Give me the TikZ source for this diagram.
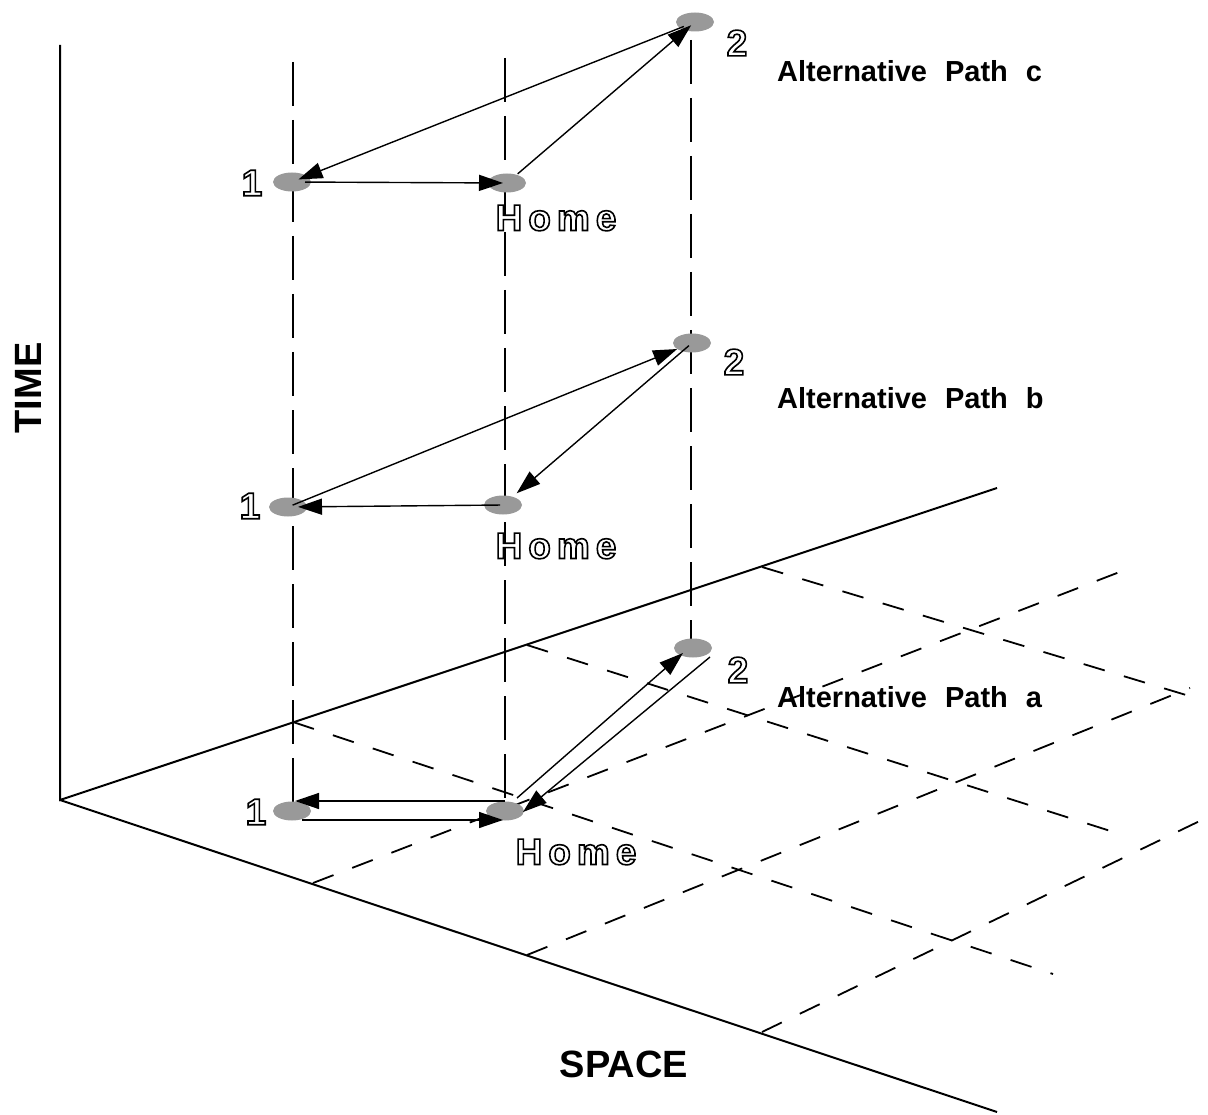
\documentclass[tikz,border=0pt]{standalone}
\usepackage{fontspec}
\setmainfont{Liberation Sans}
\usetikzlibrary{shapes.geometric,arrows.meta}
\newcommand\hollowtxt[1]{%
  {\color{white}\special{pdf:literal direct 2 Tr 1.6 w 0 G}#1\special{pdf:literal direct 0 Tr}}}
\begin{document}
\begin{tikzpicture}[x=1pt,y=-1pt,
  axis/.style={line width=2pt},
  floorgrid/.style={line width=1.8pt, dash pattern=on 22pt off 20pt},
  column/.style={line width=1.8pt, dash pattern=on 44pt off 14pt},
  spot/.style={ellipse, fill=black!40, minimum width=38pt, minimum height=19pt, inner sep=0pt},
  trip/.style={line width=1.4pt, -{Triangle[length=24pt,width=16pt]}},
  pathlabel/.style={font=\bfseries\fontsize{29}{34}\selectfont, anchor=base west, inner sep=0pt},
  axislabel/.style={font=\bfseries\fontsize{38}{44}\selectfont, inner sep=0pt},
  placelabel/.style={font=\bfseries\fontsize{37}{42}\selectfont, inner sep=0pt}]
\useasboundingbox (0,0) rectangle (1208,1115);
% axes
\coordinate (O) at (60,800);
\coordinate (Ttop) at (60,45);
\coordinate (Bend) at (997,488);
\coordinate (Fend) at (997,1112);
\draw[axis] (Ttop) -- (O) -- (Bend);
\draw[axis] (O) -- (Fend);
% floor grid
\draw[floorgrid] (313,883) -- (1130,568);
\draw[floorgrid] (527,955) -- (1190,688);
\draw[floorgrid] (762,1032) -- (1208,817);
\draw[floorgrid] (293,722) -- (1053,974);
\draw[floorgrid] (527,645) -- (1123,835);
\draw[floorgrid] (762,567) -- (1196,698);
% columns
\draw[column] (293,62) -- (293,802);
\draw[column] (505,58) -- (505,801);
\draw[column] (691,40) -- (691,646);
% spots
\node[spot] (c1) at (292,182) {};
\node[spot] (ch) at (507,183) {};
\node[spot] (c2) at (695,22) {};
\node[spot] (b1) at (288,507) {};
\node[spot] (bh) at (503,505) {};
\node[spot] (b2) at (692,343) {};
\node[spot] (a1) at (292,811) {};
\node[spot] (ah) at (505,811) {};
\node[spot] (a2) at (693,648) {};
% path c
\draw[trip, shorten <=13pt, shorten >=4pt] (c1.center) -- (ch.center);
\draw[trip, shorten <=14pt, shorten >=5pt] (ch.center) -- (c2.center);
\draw[trip, shorten <=12pt, shorten >=7pt] (c2.center) -- (c1.center);
% path b
\draw[trip, shorten <=5pt, shorten >=16pt] (b1.center) -- (b2.center);
\draw[trip, shorten <=4pt, shorten >=18pt] (b2.center) -- (bh.center);
\draw[trip, shorten <=3pt, shorten >=10pt] (bh.center) -- (b1.center);
% path a
\draw[trip, shorten >=3pt] ([yshift=10pt]ah.center) -- ([yshift=10pt]a1.center);
\draw[trip, shorten <=10pt, shorten >=2pt] ([yshift=-9pt]a1.center) -- ([yshift=-9pt]ah.center);
\draw[trip] ([xshift=12pt,yshift=13pt]ah.center) -- ([xshift=-10pt,yshift=-5pt]a2.center);
\draw[trip] ([xshift=17pt,yshift=-9pt]a2.center) -- ([xshift=18pt,yshift=-1pt]ah.center);
% place labels
\node[placelabel] (l1c) at (252,183) {\hollowtxt{1}};
\node[placelabel] (l1b) at (250,506) {\hollowtxt{1}};
\node[placelabel] (l1a) at (256,812) {\hollowtxt{1}};
\node[placelabel] (l2c) at (737,43) {\hollowtxt{2}};
\node[placelabel] (l2b) at (734,362) {\hollowtxt{2}};
\node[placelabel] (l2a) at (738,670) {\hollowtxt{2}};
\node[placelabel] (lhc) at (556,218) {\hollowtxt{H\kern6pt o\kern6pt m\kern6pt e}};
\node[placelabel] (lhb) at (556,546) {\hollowtxt{H\kern6pt o\kern6pt m\kern6pt e}};
\node[placelabel] (lha) at (576,852) {\hollowtxt{H\kern6pt o\kern6pt m\kern6pt e}};
% path labels
\node[pathlabel] (pc) at (777,82) {Alternative\hspace{18pt}Path\hspace{18pt}c};
\node[pathlabel] (pb) at (777,408) {Alternative\hspace{18pt}Path\hspace{18pt}b};
\node[pathlabel] (pa) at (777,707) {Alternative\hspace{18pt}Path\hspace{18pt}a};
% axis labels
\node[axislabel, rotate=90] (time) at (28,388) {TIME};
\node[axislabel] (space) at (624,1064) {SPACE};
\end{tikzpicture}
\end{document}
